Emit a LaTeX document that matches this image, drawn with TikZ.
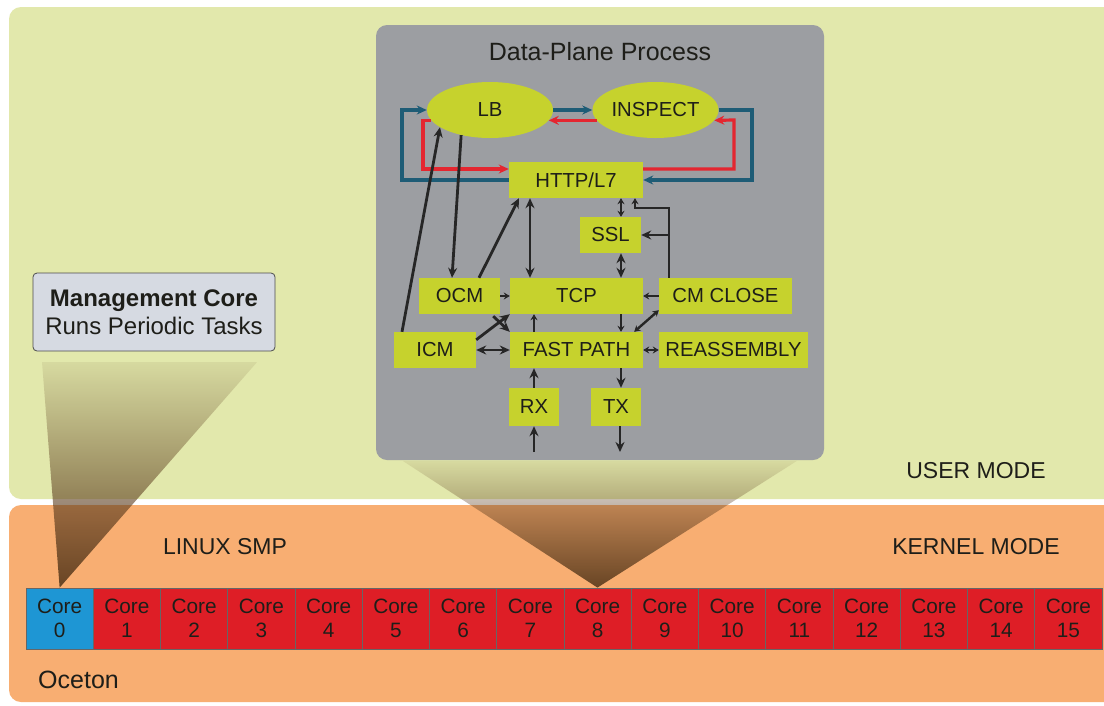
\documentclass[tikz,border=0pt]{standalone}
\usepackage{fontspec}
\setmainfont{Liberation Sans}
\usetikzlibrary{shapes.geometric,arrows.meta,fadings,calc}
\definecolor{ugreen}{RGB}{226,232,172}
\definecolor{korange}{RGB}{248,174,114}
\definecolor{dpgray}{RGB}{156,158,162}
\definecolor{ybox}{RGB}{198,210,45}
\definecolor{tealc}{RGB}{30,92,118}
\definecolor{redc}{RGB}{228,38,48}
\definecolor{coreblue}{RGB}{30,150,212}
\definecolor{corered}{RGB}{222,30,38}
\definecolor{txt}{RGB}{30,30,25}
\definecolor{mgmtfill}{RGB}{214,218,226}
\definecolor{funbrown}{RGB}{92,60,30}
\tikzfading[name=funfade, top color=transparent!92, bottom color=transparent!8]
\tikzset{
  lbl/.style={text=txt, font=\fontsize{23}{27}\selectfont, inner sep=0pt},
  ybx/.style={fill=ybox, text=txt, inner sep=0pt, font=\fontsize{20.3}{24}\selectfont, minimum height=36pt},
  yell/.style={ellipse, fill=ybox, text=txt, inner sep=0pt, font=\fontsize{20.3}{24}\selectfont, minimum width=126pt, minimum height=56pt},
  ar/.style={draw=black!85, line width=2.8pt, -{Stealth[length=10pt,width=9pt]}},
  dar/.style={draw=black!85, line width=2.8pt, {Stealth[length=10pt,width=9pt]}-{Stealth[length=10pt,width=9pt]}},
  sar/.style={draw=black!85, line width=2.4pt, -{Stealth[length=6pt,width=7pt]}},
  sdar/.style={draw=black!85, line width=2.4pt, {Stealth[length=6pt,width=7pt]}-{Stealth[length=6pt,width=7pt]}},
  tl/.style={draw=tealc, line width=3.2pt, -{Stealth[length=10pt,width=9pt]}},
  rl/.style={draw=redc, line width=3.2pt, -{Stealth[length=10pt,width=9pt]}},
  corebox/.style={draw=black!60, line width=0.8pt, text=txt, minimum width=67.25pt, minimum height=61pt, inner sep=0pt, align=center, font=\fontsize{20.8}{24}\selectfont},
}
\begin{document}
\begin{tikzpicture}[x=1pt,y=-1pt]
\useasboundingbox (0,0) rectangle (1104,705);
\fill[white] (0,0) rectangle (1104,705);
% panels
\fill[ugreen, rounded corners=12pt] (9,7) rectangle (1120,499);
\fill[korange, rounded corners=12pt] (9,505) rectangle (1120,702);
% labels on panels
\node[lbl] (user) at (976,471) {USER MODE};
\node[lbl] (kernel) at (976,547) {KERNEL MODE};
\node[lbl] (linux) at (225,547) {LINUX SMP};
\node[lbl, anchor=west, font=\fontsize{25}{29}\selectfont] (oceton) at (38,680) {Oceton};
% cores
\foreach \i in {0,...,15}{
  \pgfmathsetmacro{\cx}{26+67.25*\i+33.625}
  \ifnum\i=0
    \node[corebox, fill=coreblue] (core\i) at (\cx,618.5) {Core\\\i};
  \else
    \node[corebox, fill=corered] (core\i) at (\cx,618.5) {Core\\\i};
  \fi
}
% funnels
\fill[funbrown, path fading=funfade] (42,362) -- (257,362) -- (core0.north) -- cycle;
\fill[funbrown, path fading=funfade] (403,461) -- (797,461) -- (core8.north) -- cycle;
% data plane panel
\fill[dpgray, rounded corners=11pt] (376,25) rectangle (824,460);
\node[lbl, font=\fontsize{25}{29}\selectfont] (dptitle) at (600,52) {Data-Plane Process};
% management box
\node[draw=black!70, line width=0.8pt, fill=mgmtfill, rounded corners=4pt, minimum width=242pt, minimum height=78pt, align=center, text=txt, font=\fontsize{24}{28}\selectfont, inner sep=0pt] (mgmt) at (154,312) {\textbf{Management Core}\\Runs Periodic Tasks};
% data plane nodes
\node[yell] (lb) at (490,110) {LB};
\node[yell] (insp) at (655.5,110) {INSPECT};
\node[ybx, minimum width=134pt] (http) at (576,180) {HTTP/L7};
\node[ybx, minimum width=61pt] (ssl) at (610.5,235) {SSL};
\node[ybx, minimum width=81pt] (ocm) at (459.5,296) {OCM};
\node[ybx, minimum width=133pt] (tcp) at (576.5,296) {TCP};
\node[ybx, minimum width=133pt] (cmc) at (725.5,296) {CM CLOSE};
\node[ybx, minimum width=82pt] (icm) at (435,350) {ICM};
\node[ybx, minimum width=133pt] (fp) at (576.5,350) {FAST PATH};
\node[ybx, minimum width=149pt] (reas) at (733.5,350) {REASSEMBLY};
\node[ybx, minimum width=50pt, minimum height=38pt] (rx) at (534,407) {RX};
\node[ybx, minimum width=50pt, minimum height=38pt] (tx) at (616,407) {TX};
% colored loops
\draw[tl] (http.west) -| (402,110) -- (lb.west);
\draw[rl] (lb.190) -| (423,169) -- ([yshift=11pt]http.west);
\draw[tl] (lb.east) -- (insp.west);
\draw[rl] (insp.190) -- (lb.350);
\draw[tl] (insp.east) -| (752,180) -- (http.east);
\draw[rl] ([yshift=11pt]http.east) -| (734,120) -- (insp.350);
% black connectors
\draw[ar] (lb.221) -- ([xshift=-7.5pt]ocm.north);
\draw[ar] ([xshift=-33pt]icm.north) -- (lb.199);
\draw[ar] ([xshift=19.5pt]ocm.north) -- ([xshift=-57pt]http.south);
\draw[dar] ([xshift=-46pt]http.south) -- ([xshift=-46.5pt]tcp.north);
\draw[sdar] ([xshift=45pt]http.south) -- ([xshift=10.5pt]ssl.north);
\draw[dar] ([xshift=10.5pt]ssl.south) -- ([xshift=44.5pt]tcp.north);
\coordinate (cmtop) at ([xshift=-56.5pt]cmc.north);
\draw[sar] (cmtop) |- (635,208) -- ([xshift=59pt]http.south);
\draw[ar] (cmtop |- ssl.east) -- (ssl.east);
\draw[sar] (cmc.west) -- (tcp.east);
\draw[sar] (ocm.east) -- (tcp.west);
\draw[ar] ([xshift=-7pt,yshift=-2pt]ocm.south east) -- (fp.north west);
\draw[ar] ([yshift=-8pt]icm.north east) -- (tcp.south west);
\draw[sar] ([xshift=-42.5pt]fp.north) -- ([xshift=-42.5pt]tcp.south);
\draw[sar] ([xshift=44.5pt]tcp.south) -- ([xshift=44.5pt]fp.north);
\draw[sdar] ([yshift=4pt]cmc.south west) -- ([xshift=-9pt]fp.north east);
\draw[dar] (icm.east) -- (fp.west);
\draw[sdar] (fp.east) -- (reas.west);
\draw[ar] (rx.north) -- ([xshift=-42.5pt]fp.south);
\draw[ar] ([xshift=44.5pt]fp.south) -- ([xshift=5pt]tx.north);
\coordinate (rxin) at (534,452);
\coordinate (txout) at (620,452);
\draw[ar] (rxin) -- (rx.south);
\draw[ar] ([xshift=4pt]tx.south) -- (txout);
\end{tikzpicture}
\end{document}
